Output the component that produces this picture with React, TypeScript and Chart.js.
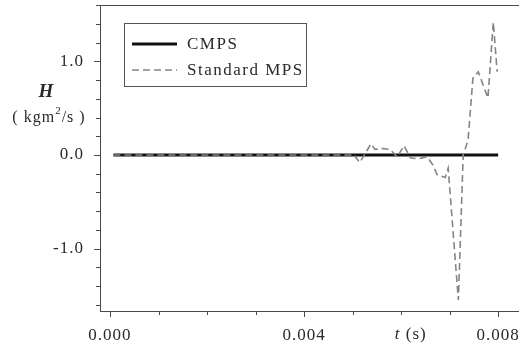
import React, { useEffect, useRef } from 'react';
import { Chart, registerables } from 'chart.js';

Chart.register(...registerables);

// ---- data ----
const cmpsTime = [0.00007, 0.008];
const cmpsH = [0, 0];

const mpsTime = [
  0.00007, 0.00495, 0.00501, 0.00515, 0.00538, 0.00546, 0.00563, 0.00577, 0.00592,
  0.00606, 0.00619, 0.00635, 0.00654, 0.00666, 0.00674, 0.00691, 0.00697, 0.00718,
  0.00728, 0.00738, 0.00748, 0.00759, 0.00779, 0.0079, 0.00798,
];
const mpsH = [
  0, 0, 0.01, -0.08, 0.12, 0.06, 0.07, 0.06, -0.02,
  0.1, -0.03, -0.04, -0.02, -0.11, -0.21, -0.24, -0.14, -1.55,
  0.0, 0.16, 0.82, 0.89, 0.61, 1.42, 0.89,
];

const seriesLabels = ['CMPS', 'Standard MPS'];
const xMajorLabels = ['0.000', '0.004', '0.008'];
const yMajorLabels = ['1.0', '0.0', '-1.0'];

const SERIF = '"Liberation Serif", "Times New Roman", serif';
const TEXT = '#2a2a2a';
const AXIS = '#4a4a4a';
const GRAY = '#858585';

const near = (v: number, step: number) => Math.abs(v / step - Math.round(v / step)) < 1e-6;
const fmtX = (v: number) => (Math.abs(v) < 1e-9 ? 0 : v).toFixed(3);
const fmtY = (v: number) => (Math.abs(v) < 1e-9 ? 0 : v).toFixed(1);

const decorPlugin = {
  id: 'decor',
  beforeDraw(chart: any) {
    chart.ctx.letterSpacing = '1px';
  },
  afterDraw(chart: any) {
    const { ctx, chartArea: a, scales } = chart;
    const xs = scales.x;
    const ys = scales.y;
    ctx.save();
    ctx.strokeStyle = AXIS;
    ctx.lineWidth = 1;
    ctx.setLineDash([]);
    // top frame line
    ctx.beginPath();
    ctx.moveTo(a.left, a.top + 0.5);
    ctx.lineTo(a.right, a.top + 0.5);
    ctx.stroke();
    // x tick marks
    xs.ticks.forEach((t: any) => {
      const p = Math.round(xs.getPixelForValue(t.value)) + 0.5;
      const len = near(t.value, 0.004) ? 6 : 4;
      ctx.beginPath();
      ctx.moveTo(p, a.bottom);
      ctx.lineTo(p, a.bottom + len);
      ctx.stroke();
    });
    // y tick marks
    ys.ticks.forEach((t: any) => {
      const p = Math.round(ys.getPixelForValue(t.value)) + 0.5;
      const len = near(t.value, 1) ? 6 : 4;
      ctx.beginPath();
      ctx.moveTo(a.left, p);
      ctx.lineTo(a.left - len, p);
      ctx.stroke();
    });

    // axis titles
    ctx.fillStyle = TEXT;
    ctx.textBaseline = 'middle';
    ctx.textAlign = 'center';
    ctx.letterSpacing = '0px';
    ctx.font = `italic bold 19px ${SERIF}`;
    ctx.fillText('H', a.left - 54, ys.getPixelForValue(0.67));

    // ( kgm²/s )
    ctx.letterSpacing = '1px';
    const yUnit = ys.getPixelForValue(0.4);
    const big = `16px ${SERIF}`;
    const small = `11px ${SERIF}`;
    const parts: [string, string, number][] = [
      ['( kgm', big, 0],
      ['2', small, -6],
      ['/s )', big, 0],
    ];
    let total = 0;
    parts.forEach(([s, f]) => {
      ctx.font = f;
      total += ctx.measureText(s).width;
    });
    let x = a.left - 51 - total / 2;
    ctx.textAlign = 'left';
    parts.forEach(([s, f, dy]) => {
      ctx.font = f;
      ctx.fillText(s, x, yUnit + dy);
      x += ctx.measureText(s).width;
    });

    // t (s)
    const tx = xs.getPixelForValue(0.0062);
    const ty = a.bottom + 24;
    ctx.font = `italic 17px ${SERIF}`;
    const w1 = ctx.measureText('t ').width;
    ctx.font = `17px ${SERIF}`;
    const w2 = ctx.measureText('(s)').width;
    const sx = tx - (w1 + w2) / 2;
    ctx.font = `italic 17px ${SERIF}`;
    ctx.fillText('t ', sx, ty);
    ctx.font = `17px ${SERIF}`;
    ctx.fillText('(s)', sx + w1, ty);

    // legend
    const lx = a.left + 24;
    const lt = a.top + 18;
    const lw = 182;
    const lh = 63;
    ctx.fillStyle = '#ffffff';
    ctx.fillRect(lx, lt, lw, lh);
    ctx.strokeStyle = '#555555';
    ctx.lineWidth = 1;
    ctx.strokeRect(lx + 0.5, lt + 0.5, lw, lh);
    chart.data.datasets.forEach((ds: any, i: number) => {
      const ly = lt + 21 + i * 26;
      ctx.beginPath();
      ctx.strokeStyle = ds.borderColor;
      ctx.lineWidth = ds.borderWidth;
      ctx.setLineDash(ds.borderDash || []);
      ctx.moveTo(lx + 8, ly);
      ctx.lineTo(lx + 53, ly);
      ctx.stroke();
      ctx.setLineDash([]);
      ctx.fillStyle = TEXT;
      ctx.font = `17px ${SERIF}`;
      ctx.letterSpacing = '1.5px';
      ctx.textAlign = 'left';
      ctx.fillText(ds.label, lx + 63, ly + 1);
    });
    ctx.restore();
  },
};

export default function App() {
  const ref = useRef<HTMLCanvasElement | null>(null);
  useEffect(() => {
    if (!ref.current) return;
    const chart = new Chart(ref.current, {
      type: 'line',
      data: {
        datasets: [
          {
            label: seriesLabels[0],
            data: cmpsTime.map((t, i) => ({ x: t, y: cmpsH[i] })),
            borderColor: '#111111',
            borderWidth: 3,
            pointRadius: 0,
            tension: 0,
            order: 2,
          },
          {
            label: seriesLabels[1],
            data: mpsTime.map((t, i) => ({ x: t, y: mpsH[i] })),
            borderColor: GRAY,
            borderWidth: 1.6,
            borderDash: [7, 4],
            pointRadius: 0,
            tension: 0,
            order: 1,
          },
        ],
      },
      options: {
        responsive: false,
        animation: false,
        layout: { padding: { top: 5, right: 0, left: 0, bottom: 0 } },
        plugins: { legend: { display: false }, tooltip: { enabled: false } },
        scales: {
          x: {
            type: 'linear',
            min: -0.000206,
            max: 0.00843,
            afterFit: (s: any) => {
              s.height = 41;
              s.paddingLeft = 0;
              s.paddingRight = 0;
              s.paddingTop = 0;
              s.paddingBottom = 0;
            },
            grid: { display: true, drawOnChartArea: false, drawTicks: false },
            border: { display: true, color: AXIS, width: 1 },
            ticks: {
              stepSize: 0.001,
              includeBounds: false,
              autoSkip: false,
              maxRotation: 0,
              padding: 14,
              color: TEXT,
              font: { family: SERIF, size: 17 },
              callback: (v: any) => {
                const s = fmtX(Number(v));
                return near(Number(v), 0.004) && xMajorLabels.includes(s) ? s : '';
              },
            },
          },
          y: {
            type: 'linear',
            min: -1.668,
            max: 1.604,
            afterFit: (s: any) => {
              s.width = 100;
              s.paddingLeft = 0;
              s.paddingRight = 0;
              s.paddingTop = 0;
              s.paddingBottom = 0;
            },
            grid: { display: true, drawOnChartArea: false, drawTicks: false },
            border: { display: true, color: AXIS, width: 1 },
            ticks: {
              stepSize: 0.2,
              includeBounds: false,
              autoSkip: false,
              padding: 16,
              color: TEXT,
              font: { family: SERIF, size: 17 },
              callback: (v: any) => {
                const s = fmtY(Number(v));
                return near(Number(v), 1) && yMajorLabels.includes(s) ? s : '';
              },
            },
          },
        },
      },
      plugins: [decorPlugin],
    } as any);
    return () => chart.destroy();
  }, []);
  return (
    <div style={{ position: 'fixed', left: 0, top: 0, width: 519, height: 352, background: '#fff' }}>
      <canvas ref={ref} width={519} height={352} />
    </div>
  );
}
